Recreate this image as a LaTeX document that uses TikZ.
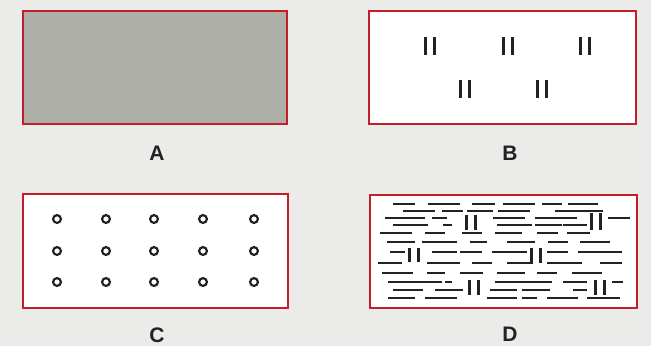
\documentclass[tikz,border=0pt]{standalone}
\usepackage{fontspec}
\setmainfont{Liberation Sans}
\definecolor{paper}{HTML}{EBEBE9}
\definecolor{frame}{HTML}{C41E2A}
\definecolor{fillA}{HTML}{AEAFA8}
\definecolor{ink}{HTML}{222222}
\tikzset{
  panel/.style={draw=frame, line width=2.4pt},
  lab/.style={font=\fontsize{21}{21}\selectfont\bfseries, text=ink, inner sep=0pt},
  ring/.style={draw=ink, line width=2.2pt},
  dsh/.style={draw=ink, line width=1.8pt},
  bar/.style={draw=ink, line width=3.3pt},
}
\newcommand\dashrow[2]{\foreach \a/\b in {#2} \draw[dsh] (\a,#1) -- (\b,#1);}
\newcommand\pairbars[3]{% center x, top y, bottom y
  \draw[bar] ({#1-4.3},#2) -- ({#1-4.3},#3);
  \draw[bar] ({#1+4.3},#2) -- ({#1+4.3},#3);}
\begin{document}
\begin{tikzpicture}[x=1pt,y=-1pt]
\useasboundingbox (0,0) rectangle (651,346);
\fill[paper] (0,0) rectangle (651,346);
% panels
\draw[panel, fill=fillA] (23,11) rectangle (287,124);
\draw[panel, fill=white] (369,11) rectangle (636,124);
\draw[panel, fill=white] (23,194) rectangle (288,308);
\draw[panel, fill=white] (370,195) rectangle (637,308);
% labels
\node[lab] (la) at (157,153) {A};
\node[lab] (lb) at (510,153) {B};
\node[lab] (lc) at (157,335) {C};
\node[lab] (ld) at (510,334) {D};
% B
\pairbars{430}{37}{55}
\pairbars{508}{37}{55}
\pairbars{585}{37}{55}
\pairbars{465}{80}{98}
\pairbars{542}{80}{98}
% C
\foreach \x in {57,106,154,203,254}
  \foreach \y in {219,251,282}
    \draw[ring] (\x,\y) circle[radius=3.9pt];
% D
\dashrow{204}{393/415,428/460,472/495,503/535,542/562,568/598}
\dashrow{211}{403/435,442/463,467/493,498/530,555/603}
\dashrow{218}{385/425,432/447,493/525,535/577,608/630}
\dashrow{225}{393/428,443/452,497/532,535/562,563/587}
\dashrow{233}{380/412,425/445,462/482,495/522,537/558,567/590}
\dashrow{242}{387/415,422/457,470/487,507/535,548/568,580/610}
\dashrow{252}{390/405,432/457,460/482,492/527,547/568,578/622}
\dashrow{263}{378/402,427/460,472/492,507/533,547/582,600/622}
\dashrow{273}{382/413,427/445,460/483,497/525,537/557,572/602}
\dashrow{282}{388/442,445/452,495/552,563/587,612/623}
\dashrow{290}{393/423,435/463,490/517,522/550,573/587}
\dashrow{298}{388/415,425/457,487/517,522/537,547/578,587/620}
\pairbars{471}{215}{230}
\pairbars{596}{213}{230}
\pairbars{414}{248}{262}
\pairbars{536}{248}{263}
\pairbars{474}{280}{295}
\pairbars{600}{280}{295}
\end{tikzpicture}
\end{document}
